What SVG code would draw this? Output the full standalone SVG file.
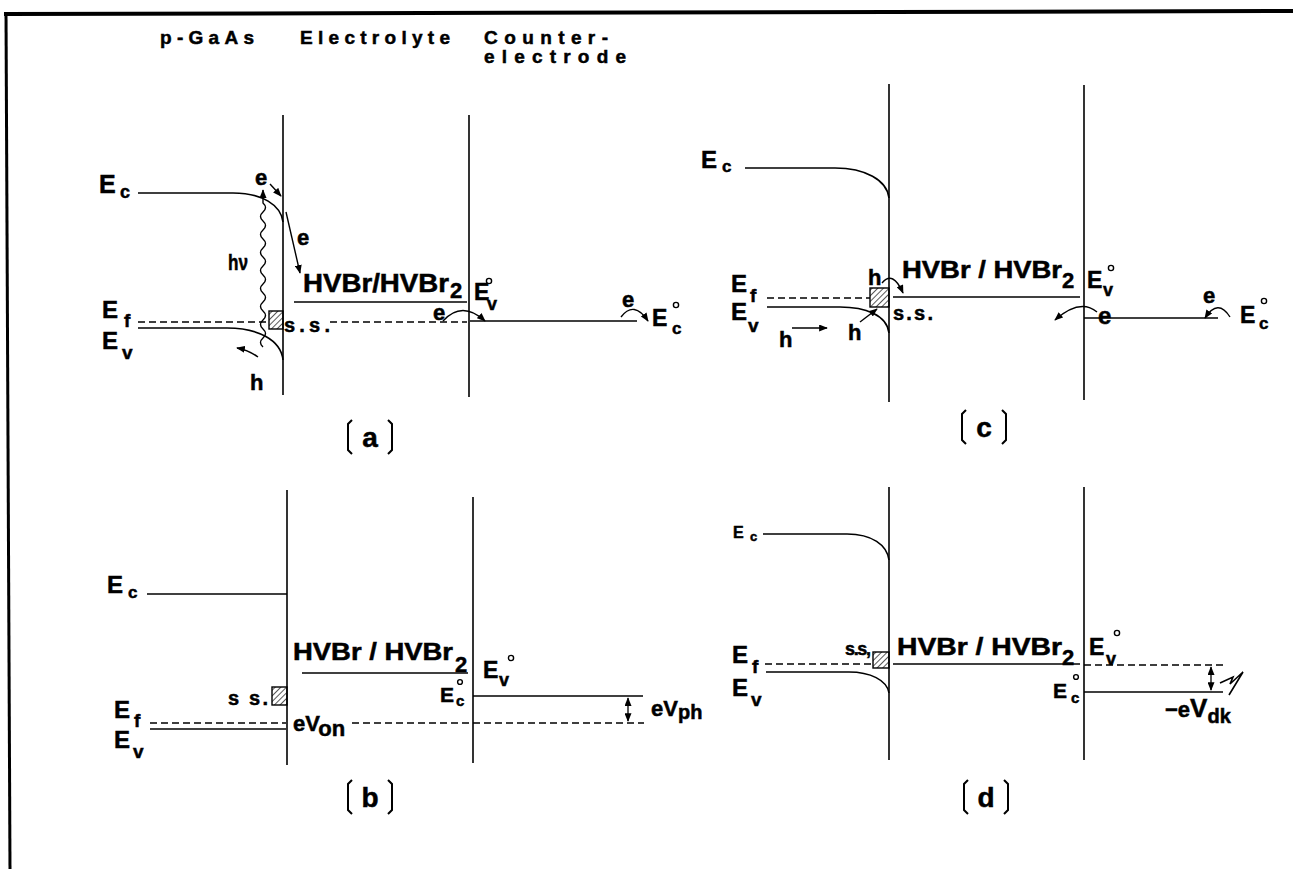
<svg xmlns="http://www.w3.org/2000/svg" width="1293" height="869" viewBox="0 0 1293 869">
<defs>
<style>
.t{font-family:'Liberation Sans',Arial,sans-serif;font-weight:bold;fill:#000;stroke:#000;stroke-width:0.5}
.ln{stroke:#000;stroke-width:1.6;fill:none}
.ds{stroke:#000;stroke-width:1.4;fill:none;stroke-dasharray:7 4}
.ar{stroke:#000;stroke-width:1.4;fill:none;marker-end:url(#ah)}
.ar2{stroke:#000;stroke-width:1.3;fill:none;marker-start:url(#ah);marker-end:url(#ah)}
.deg{fill:none;stroke:#000;stroke-width:1.4}
.ss{fill:url(#hatch);stroke:#000;stroke-width:1.4}
.br{stroke:#000;stroke-width:2;fill:none}
</style>
<marker id="ah" viewBox="0 0 10 8" refX="9" refY="4" markerWidth="9" markerHeight="7" markerUnits="userSpaceOnUse" orient="auto-start-reverse"><path d="M0,0 L10,4 L0,8 z"/></marker>
<pattern id="hatch" patternUnits="userSpaceOnUse" width="4" height="4" patternTransform="rotate(45)"><line x1="0" y1="0" x2="0" y2="4" stroke="#000" stroke-width="1.3"/></pattern>
</defs>
<rect width="1293" height="869" fill="#fff"/>

<!-- frame -->
<g id="frame">
<line x1="4" y1="14" x2="1293" y2="11" stroke="#000" stroke-width="4"/>
<line x1="6" y1="12" x2="10" y2="869" stroke="#000" stroke-width="3"/>
</g>

<!-- column headings -->
<g id="headings" class="t" font-size="19">
<text x="160" y="44" textLength="94" lengthAdjust="spacing">p-GaAs</text>
<text x="300" y="44" textLength="150" lengthAdjust="spacing">Electrolyte</text>
<text x="484" y="44" textLength="124" lengthAdjust="spacing">Counter-</text>
<text x="484" y="63" textLength="142" lengthAdjust="spacing">electrode</text>
</g>

<!-- (a) illuminated -->
<g id="panel-a">
<g id="a-bands">
<line class="ln" x1="283" y1="115" x2="283" y2="395"/>
<line class="ln" x1="469" y1="115" x2="469" y2="397"/>
<path class="ln" d="M138,193 L233,193 C262,193 281,205 283,222"/>
<path class="ln" d="M138,328 L227,328 C258,328 281,340 283,360"/>
<path class="ds" d="M138,322 L269,322"/>
<path class="ln" d="M294,302 L467,302"/>
<path class="ds" d="M330,322 L467,322"/>
<path class="ln" d="M470,321 L637,321"/>
<rect class="ss" x="269" y="311" width="14" height="18"/>
</g>
<g id="a-labels" class="t">
<text x="99" y="193" font-size="25">E</text><text x="120" y="198" font-size="18">c</text>
<text x="102" y="318" font-size="24">E</text><text x="124" y="327" font-size="19">f</text>
<text x="102" y="349" font-size="24">E</text><text x="122" y="359" font-size="19">v</text>
<text x="255" y="185" font-size="22">e</text>
<text x="297" y="245" font-size="22">e</text>
<text x="228" y="270" font-size="22" textLength="20" lengthAdjust="spacingAndGlyphs">hν</text>
<text x="250" y="390" font-size="22">h</text>
<text x="284" y="332" font-size="20" textLength="46" lengthAdjust="spacing">s.s.</text>
<text x="303" y="292" font-size="25" textLength="146" lengthAdjust="spacingAndGlyphs">HVBr/HVBr</text><text x="450" y="298" font-size="22">2</text>
<text x="474" y="300" font-size="23">E</text><text x="487" y="310" font-size="18">v</text><circle class="deg" cx="489" cy="281" r="2.6"/>
<text x="433" y="320" font-size="22">e</text>
<text x="622" y="307" font-size="22">e</text>
<text x="652" y="326" font-size="23">E</text><text x="672" y="334" font-size="17">c</text><circle class="deg" cx="676" cy="305" r="2.6"/>
<path class="br" d="M352,420 L348,424 L348,450 L352,454 M388,420 L392,424 L392,450 L388,454"/>
<text x="370" y="447" font-size="28" text-anchor="middle">a</text>
</g>
<g id="a-connectors">
<path class="ar" d="M270,184 L281,196"/>
<path class="ar" d="M286,212 L300,273"/>
<path class="ar" d="M263,347 q-5,-4.5 0,-9 q5,-4.5 0,-9 q-5,-4.5 0,-9 q5,-4.5 0,-9 q-5,-4.5 0,-9 q5,-4.5 0,-9 q-5,-4.5 0,-9 q5,-4.5 0,-9 q-5,-4.5 0,-9 q5,-4.5 0,-9 q-5,-4.5 0,-9 q5,-4.5 0,-9 q-5,-4.5 0,-9 q5,-4.5 0,-9 q-5,-4.5 0,-9 q5,-4.5 0,-9 L263,190"/>
<path class="ar" d="M258,357 Q248,350 237,348"/>
<path class="ar" d="M443,321 Q462,300 485,321"/>
<path class="ar" d="M621,317 Q634,300 648,321"/>
</g>
</g>

<!-- (b) dark, open circuit -->
<g id="panel-b">
<g id="b-bands">
<line class="ln" x1="287" y1="490" x2="287" y2="765"/>
<line class="ln" x1="473" y1="497" x2="473" y2="763"/>
<path class="ln" d="M147,594 L287,594"/>
<path class="ln" d="M302,673 L468,673"/>
<path class="ln" d="M473,696 L643,696"/>
<path class="ds" d="M352,723 L644,723"/>
<path class="ds" d="M150,723 L286,723"/>
<path class="ln" d="M150,729 L286,729"/>
<rect class="ss" x="272" y="687" width="15" height="18"/>
</g>
<g id="b-labels" class="t">
<text x="107" y="593" font-size="24">E</text><text x="128" y="598" font-size="17">c</text>
<text x="293" y="660" font-size="24" textLength="160" lengthAdjust="spacingAndGlyphs">HVBr / HVBr</text><text x="455" y="672" font-size="22">2</text>
<text x="483" y="678" font-size="23">E</text><text x="499" y="686" font-size="18">v</text><circle class="deg" cx="511" cy="658" r="2.6"/>
<text x="440" y="702" font-size="21">E</text><text x="456" y="706" font-size="15">c</text><circle class="deg" cx="460" cy="682" r="2.4"/>
<text x="651" y="716" font-size="22">eV<tspan font-size="20" dy="3">ph</tspan></text>
<text x="293" y="731" font-size="22">eV<tspan dy="5">on</tspan></text>
<text x="228" y="705" font-size="20" textLength="40" lengthAdjust="spacing">s s.</text>
<text x="114" y="718" font-size="24">E</text><text x="134" y="727" font-size="19">f</text>
<text x="114" y="748" font-size="24">E</text><text x="133" y="758" font-size="19">v</text>
<path class="br" d="M352,780 L348,784 L348,810 L352,814 M388,780 L392,784 L392,810 L388,814"/>
<text x="370" y="807" font-size="28" text-anchor="middle">b</text>
</g>
<g id="b-connectors">
<path class="ar2" d="M628,698 L628,721"/>
</g>
</g>

<!-- (c) illuminated, surface state mediated -->
<g id="panel-c">
<g id="c-bands">
<line class="ln" x1="889" y1="84" x2="889" y2="402"/>
<line class="ln" x1="1084" y1="85" x2="1084" y2="400"/>
<path class="ln" d="M745,168 L835,168 C865,168 887,180 889,198"/>
<path class="ds" d="M767,298 L870,298"/>
<path class="ln" d="M767,307 L840,307 C865,307 887,315 889,333"/>
<path class="ln" d="M893,297 L1080,297"/>
<path class="ln" d="M1084,318 L1218,318"/>
<rect class="ss" x="870" y="288" width="19" height="19"/>
</g>
<g id="c-labels" class="t">
<text x="701" y="168" font-size="24">E</text><text x="722" y="172" font-size="17">c</text>
<text x="731" y="292" font-size="24">E</text><text x="750" y="302" font-size="19">f</text>
<text x="731" y="320" font-size="24">E</text><text x="748" y="332" font-size="19">v</text>
<text x="779" y="347" font-size="22">h</text>
<text x="848" y="340" font-size="22">h</text>
<text x="868" y="285" font-size="22">h</text>
<text x="893" y="320" font-size="20" textLength="40" lengthAdjust="spacing">s.s.</text>
<text x="902" y="278" font-size="24" textLength="160" lengthAdjust="spacingAndGlyphs">HVBr / HVBr</text><text x="1062" y="288" font-size="22">2</text>
<text x="1087" y="288" font-size="23">E</text><text x="1103" y="296" font-size="18">v</text><circle class="deg" cx="1111" cy="268" r="2.6"/>
<text x="1098" y="324" font-size="24">e</text>
<text x="1203" y="303" font-size="22">e</text>
<text x="1240" y="323" font-size="23">E</text><text x="1259" y="329" font-size="17">c</text><circle class="deg" cx="1264" cy="301" r="2.6"/>
<path class="br" d="M966,410 L962,414 L962,440 L966,444 M1002,410 L1006,414 L1006,440 L1002,444"/>
<text x="984" y="437" font-size="28" text-anchor="middle">c</text>
</g>
<g id="c-connectors">
<path class="ar" d="M792,328 L827,328"/>
<path class="ar" d="M860,322 L877,309"/>
<path class="ar" d="M882,283 Q893,270 903,293"/>
<path class="ar" d="M1097,312 Q1080,298 1055,320"/>
<path class="ar" d="M1230,317 Q1218,298 1205,318"/>
</g>
</g>

<!-- (d) dark, after illumination -->
<g id="panel-d">
<g id="d-bands">
<line class="ln" x1="889" y1="487" x2="889" y2="760"/>
<line class="ln" x1="1084" y1="487" x2="1084" y2="760"/>
<path class="ln" d="M763,534 L847,534 C872,534 887,545 889,560"/>
<path class="ds" d="M765,664 L873,664"/>
<path class="ln" d="M766,672 L849,672 C870,672 887,680 889,693"/>
<path class="ln" d="M893,664 L1080,664"/>
<path class="ds" d="M1084,665 L1223,665"/>
<path class="ln" d="M1084,692 L1223,692"/>
<rect class="ss" x="873" y="652" width="16" height="16"/>
</g>
<g id="d-labels" class="t">
<text x="733" y="538" font-size="16">E</text><text x="750" y="541" font-size="13">c</text>
<text x="732" y="663" font-size="24">E</text><text x="752" y="673" font-size="19">f</text>
<text x="732" y="696" font-size="24">E</text><text x="751" y="706" font-size="19">v</text>
<text x="845" y="655" font-size="18" textLength="26" lengthAdjust="spacing">s.s,</text>
<text x="897" y="655" font-size="24" textLength="165" lengthAdjust="spacingAndGlyphs">HVBr / HVBr</text><text x="1062" y="665" font-size="22">2</text>
<text x="1089" y="655" font-size="23">E</text><text x="1106" y="665" font-size="18">v</text><circle class="deg" cx="1117" cy="633" r="2.6"/>
<text x="1053" y="698" font-size="21">E</text><text x="1071" y="703" font-size="15">c</text><circle class="deg" cx="1076" cy="677" r="2.4"/>
<text x="1165" y="717" font-size="22">−e<tspan font-size="26">V</tspan><tspan font-size="20" dy="6">dk</tspan></text>
<path class="br" d="M968,780 L964,784 L964,810 L968,814 M1004,780 L1008,784 L1008,810 L1004,814"/>
<text x="986" y="807" font-size="28" text-anchor="middle">d</text>
</g>
<g id="d-connectors">
<path class="ar2" d="M1211,667 L1211,690"/>
<path class="ln" stroke-width="1.2" d="M1220,683 L1233,677 L1230,684 L1243,672 L1229,695"/>
</g>
</g>
</svg>
